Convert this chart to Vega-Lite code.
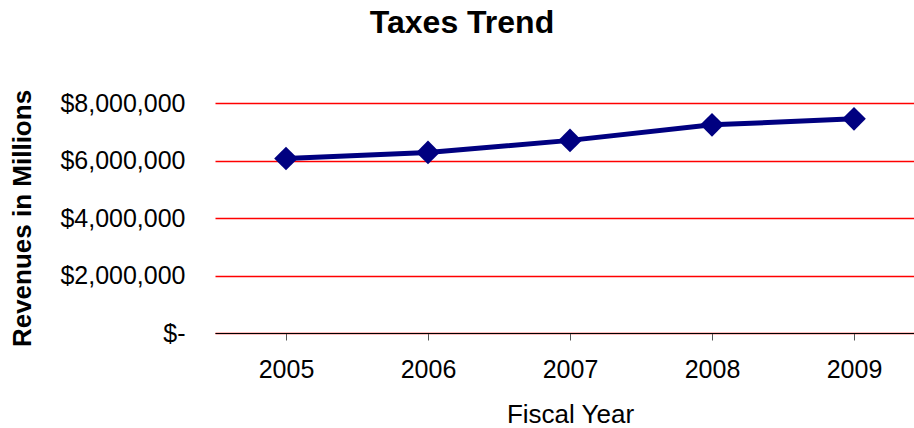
{
  "$schema": "https://vega.github.io/schema/vega-lite/v6.json",
  "width": 710,
  "height": 230,
  "autosize": {"type": "none"},
  "padding": {"left": 215, "top": 103, "right": 0, "bottom": 95},
  "background": "white",
  "config": {
    "view": {"stroke": null},
    "font": "Liberation Sans"
  },
  "title": {
    "text": "Taxes Trend",
    "fontSize": 32,
    "fontWeight": "bold",
    "font": "Liberation Sans",
    "color": "black",
    "anchor": "middle",
    "offset": 49,
    "dx": -108
  },
  "data": {
    "values": [
      {"year": "2005", "revenue": 6070000},
      {"year": "2006", "revenue": 6280000},
      {"year": "2007", "revenue": 6700000},
      {"year": "2008", "revenue": 7240000},
      {"year": "2009", "revenue": 7450000}
    ]
  },
  "encoding": {
    "x": {
      "field": "year",
      "type": "ordinal",
      "scale": {"paddingInner": 0, "paddingOuter": 0},
      "axis": {
        "title": "Fiscal Year",
        "titleFontSize": 26,
        "titleFontWeight": "normal",
        "titleColor": "black",
        "titlePadding": 19,
        "labelAngle": 0,
        "labelFontSize": 25,
        "labelColor": "black",
        "labelPadding": 17,
        "bandPosition": 0,
        "tickSize": 7,
        "tickColor": "#555",
        "domainColor": "black",
        "domainWidth": 1,
        "grid": false
      }
    },
    "y": {
      "field": "revenue",
      "type": "quantitative",
      "scale": {"domain": [0, 8000000], "nice": false},
      "axis": {
        "title": "Revenues in Millions",
        "titleFontSize": 26,
        "titleFontWeight": "bold",
        "titleColor": "black",
        "titlePadding": 24,
        "values": [0, 2000000, 4000000, 6000000, 8000000],
        "labelExpr": "datum.value == 0 ? '$-' : format(datum.value, '$,.0f')",
        "labelFontSize": 25,
        "labelColor": "black",
        "labelPadding": 30,
        "ticks": false,
        "domain": false,
        "grid": true,
        "gridColor": "#ff0000",
        "gridWidth": 1.5,
        "gridOpacity": 1
      }
    }
  },
  "layer": [
    {
      "mark": {"type": "line", "color": "#000080", "strokeWidth": 5}
    },
    {
      "mark": {"type": "point", "shape": "diamond", "filled": true, "color": "#000080", "size": 560, "opacity": 1}
    }
  ]
}
